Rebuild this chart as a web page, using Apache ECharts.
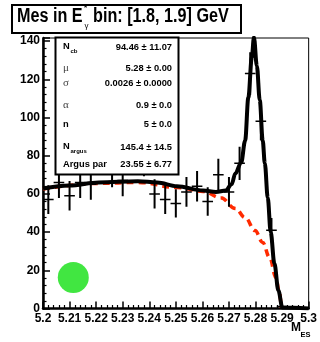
<!DOCTYPE html>
<html>
<head>
<meta charset="utf-8">
<script src="https://cdn.jsdelivr.net/npm/echarts@6/dist/echarts.min.js"></script>
<style>
  html, body { margin: 0; padding: 0; background: #fff; }
  #chart { width: 320px; height: 342px; }
</style>
</head>
<body>
<div id="chart"></div>
<script>
// histogram: bin centres (GeV), counts and errors
var binCenters = [5.202, 5.206, 5.210, 5.214, 5.218, 5.222, 5.226, 5.230, 5.234, 5.238,
                  5.242, 5.246, 5.250, 5.254, 5.258, 5.262, 5.266, 5.270, 5.274, 5.278,
                  5.282, 5.286, 5.290, 5.294, 5.298];
var counts = [57, 66, 59, 66, 65, 80, 72, 67, 79, 78,
              60, 57, 55, 61, 64, 56, 70, 61, 76, 123,
              98, 41, 1, null, null];
var errors = [7.5, 8.1, 7.7, 8.1, 8.1, 8.9, 8.5, 8.2, 8.9, 8.8,
              7.7, 7.5, 7.4, 7.8, 8.0, 7.5, 8.4, 7.8, 8.7, 11.1,
              9.9, 6.4, 1.0, null, null];
var binWidth = 0.004;

// total fit (CB + Argus)
var fitMass = [5.2000, 5.2099, 5.2210, 5.2357, 5.2430, 5.2504, 5.2603, 5.2651, 5.2688, 5.2710,
               5.2724, 5.2746, 5.2761, 5.2773, 5.2786, 5.2794, 5.2805, 5.2816, 5.2827, 5.2835,
               5.2846, 5.2857, 5.2871, 5.2886, 5.2901, 5.3000];
var fitVal  = [62.8, 64.4, 66.0, 66.6, 66.0, 64.0, 61.8, 61.0, 61.8, 65.0,
               70.7, 76.4, 88.0, 110.5, 131.4, 142.0, 127.0, 109.0, 88.0, 76.0,
               58.0, 40.0, 23.6, 9.4, 0.5, 0.0];

// Argus background component
var bkgMass = [5.2000, 5.2210, 5.2357, 5.2504, 5.2603, 5.2669, 5.2724, 5.2761, 5.2798, 5.2827,
               5.2853, 5.2877, 5.2888, 5.2897];
var bkgVal  = [62.5, 65.5, 66.0, 63.4, 61.3, 58.0, 52.4, 47.6, 40.8, 34.6,
               26.7, 16.2, 9.4, 0.5];

var marker = [[5.2114, 16.2]];

var xTicks = {min: 5.2, max: 5.3, step: 0.01};
var yTicks = {min: 0, max: 141.6, step: 20};

var statRows = [
  {name: 'N', sub: 'cb', val: '94.46 \u00b1 11.07'},
  {name: '\u03bc', greek: true, val: '5.28 \u00b1 0.00'},
  {name: '\u03c3', greek: true, val: '0.0026 \u00b1 0.0000'},
  {name: '\u03b1', greek: true, val: '0.9 \u00b1 0.0'},
  {name: 'n', val: '5 \u00b1 0.0'},
  {name: 'N', sub: 'argus', val: '145.4 \u00b1 14.5'},
  {name: 'Argus par', val: '23.55 \u00b1 6.77'}
];
var rowY = [46, 68, 83, 105, 124, 146, 164];

var FONT = '"Liberation Sans", Arial, sans-serif';

var hist = [];
binCenters.forEach(function (x, i) {
  if (counts[i] != null) hist.push([x, counts[i], errors[i]]);
});

function zip(a, b) { return a.map(function (v, i) { return [v, b[i]]; }); }

var chart = echarts.init(document.getElementById('chart'), null, {renderer: 'canvas'});

// stats box, kept on its own layer so it covers the points below it
var statEls = [{
  type: 'rect', zlevel: 1, z: 100, shape: {x: 55.5, y: 37.5, width: 123, height: 137},
  style: {fill: '#fff', stroke: '#000', lineWidth: 2}
}];
statRows.forEach(function (r, i) {
  var y = rowY[i];
  statEls.push({
    type: 'text', zlevel: 1, z: 101, x: 63, y: y,
    style: {text: r.name, fill: r.greek ? '#444' : '#000', align: 'left', verticalAlign: 'middle',
      font: r.greek ? '11px "Liberation Serif", serif' : 'bold 9.3px ' + FONT}
  });
  if (r.sub) {
    statEls.push({
      type: 'text', zlevel: 1, z: 101, x: 70.5, y: y + 5,
      style: {text: r.sub, fill: '#000', align: 'left', verticalAlign: 'middle', font: 'bold 6px ' + FONT}
    });
  }
  statEls.push({
    type: 'text', zlevel: 1, z: 101, x: 172, y: y + (r.sub ? 1 : 0),
    style: {text: r.val, fill: '#000', align: 'right', verticalAlign: 'middle', font: 'bold 9.3px ' + FONT}
  });
});

var titleEls = [
  {type: 'rect', shape: {x: 12, y: 5, width: 229, height: 28},
    style: {fill: '#fff', stroke: '#000', lineWidth: 2}},
  {type: 'text', x: 17, y: 26.5, scaleY: 1.3,
    style: {text: 'Mes in E', fill: '#000', font: 'bold 16.2px ' + FONT, verticalAlign: 'bottom'}},
  {type: 'text', x: 84, y: 8, style: {text: '*', fill: '#000', font: 'bold 8px ' + FONT, verticalAlign: 'middle'}},
  {type: 'text', x: 84.5, y: 26, style: {text: '\u03b3', fill: '#000', font: '8px ' + FONT, verticalAlign: 'middle'}},
  {type: 'text', x: 93, y: 26.5, scaleY: 1.3,
    style: {text: 'bin: [1.8, 1.9] GeV', fill: '#000', font: 'bold 16.2px ' + FONT, verticalAlign: 'bottom'}}
];
titleEls.forEach(function (el) { el.zlevel = 1; el.z = 100; });

chart.setOption({
  animation: false,
  backgroundColor: '#fff',
  grid: {left: 43, top: 38, width: 272, height: 270.5, show: true, borderColor: '#000', borderWidth: 1},
  xAxis: {
    type: 'value', min: xTicks.min, max: xTicks.max, interval: xTicks.step,
    axisLine: {lineStyle: {color: '#000', width: 2.5}},
    axisTick: {inside: true, length: 7, lineStyle: {color: '#000', width: 1.5}},
    minorTick: {show: true, splitNumber: 5, length: 3.5, lineStyle: {color: '#000', width: 1.2}},
    splitLine: {show: false},
    axisLabel: {
      color: '#000', fontWeight: 'bold', fontSize: 12, fontFamily: FONT, margin: 4,
      formatter: function (v) { return String(parseFloat(v.toFixed(4))); }
    }
  },
  yAxis: {
    type: 'value', min: yTicks.min, max: yTicks.max, interval: yTicks.step,
    axisLine: {lineStyle: {color: '#000', width: 2.5}},
    axisTick: {inside: true, length: 7, lineStyle: {color: '#000', width: 1.5}},
    minorTick: {show: true, splitNumber: 5, length: 3.5, lineStyle: {color: '#000', width: 1.2}},
    splitLine: {show: false},
    axisLabel: {
      color: '#000', fontWeight: 'bold', fontSize: 12, fontFamily: FONT, margin: 3,
      showMaxLabel: false
    }
  },
  series: [
    {
      type: 'line', data: zip(bkgMass, bkgVal), smooth: 0.4, smoothMonotone: 'x',
      showSymbol: false, z: 3,
      lineStyle: {color: '#ff2a00', width: 3.5, type: [7, 5]}
    },
    {
      type: 'line', data: zip(fitMass, fitVal), smooth: 0.35, smoothMonotone: 'x',
      showSymbol: false, z: 4,
      lineStyle: {color: '#000', width: 4}
    },
    {
      type: 'custom', data: hist, z: 5, clip: true,
      renderItem: function (params, api) {
        var x = api.value(0), y = api.value(1), e = api.value(2);
        var c = api.coord([x, y]);
        var lo = api.coord([x, y - e]), hi = api.coord([x, y + e]);
        var l = api.coord([x - binWidth / 2, y]), r = api.coord([x + binWidth / 2, y]);
        return {
          type: 'group',
          children: [
            {type: 'line', shape: {x1: c[0], y1: lo[1], x2: c[0], y2: hi[1]}, style: {stroke: '#000', lineWidth: 2}},
            {type: 'line', shape: {x1: l[0], y1: c[1], x2: r[0], y2: c[1]}, style: {stroke: '#000', lineWidth: 1.5}}
          ]
        };
      }
    },
    {
      type: 'scatter', data: marker, symbol: 'circle', symbolSize: 31, z: 6,
      itemStyle: {color: '#12e012'}
    }
  ],
  graphic: statEls.concat(titleEls).concat([
    {type: 'text', x: 291, y: 328, zlevel: 1, z: 100,
      style: {text: 'M', fill: '#000', font: 'bold 12px ' + FONT, verticalAlign: 'middle'}},
    {type: 'text', x: 300.5, y: 335, zlevel: 1, z: 100,
      style: {text: 'ES', fill: '#000', font: 'bold 7.5px ' + FONT, verticalAlign: 'middle'}}
  ])
});
</script>
</body>
</html>
